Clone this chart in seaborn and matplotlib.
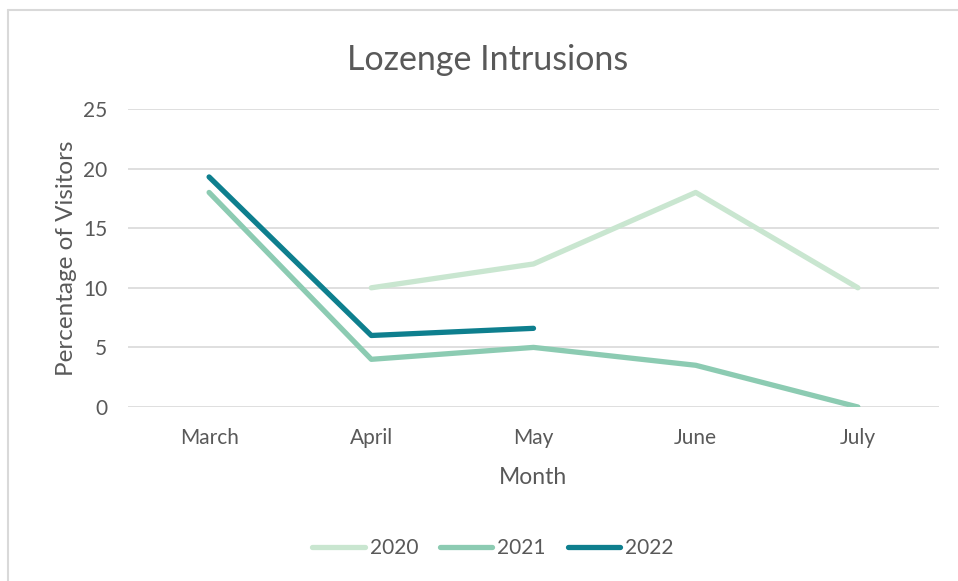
import matplotlib
matplotlib.use("Agg")
import matplotlib.pyplot as plt
import seaborn as sns
import numpy as np
import pandas as pd
from matplotlib.lines import Line2D

months = ["March", "April", "May", "June", "July"]
v2020 = [np.nan, 10, 12, 18, 10]
v2021 = [18, 4, 5, 3.5, 0]
v2022 = [19.3, 6, 6.6, np.nan, np.nan]
years = ["2020", "2021", "2022"]
colors = ["#c9e6d0", "#8ccbb2", "#0e7f8e"]

rows = []
for y, vals in zip(years, [v2020, v2021, v2022]):
    for i, (m, v) in enumerate(zip(months, vals)):
        rows.append({"Month": m, "pos": i, "Year": y, "Value": v})
df = pd.DataFrame(rows)

sns.set_theme(style="white")
plt.rcParams['font.family'] = ['Lato', 'DejaVu Sans']
txt = "#595959"

fig = plt.figure(figsize=(9.58, 5.81), dpi=100)
ax = fig.add_axes([128/958, 1-407/581, (939-128)/958, (407-109)/581])

for y, c in zip(years, colors):
    d = df[df.Year == y].dropna()
    sns.lineplot(data=d, x="pos", y="Value", ax=ax, color=c, linewidth=3.8,
                 solid_capstyle="round", solid_joinstyle="round", label=y, sort=False)

ax.set_xticks(range(len(months)))
ax.set_xticklabels(months)
ax.set_xlim(-0.5, 4.5)
ax.set_ylim(0, 25)
ax.set_yticks([0, 5, 10, 15, 20, 25])
ax.grid(axis="y", color="#d9d9d9", linewidth=1.2)
ax.grid(axis="x", visible=False)
ax.set_axisbelow(True)
for s in ax.spines.values():
    s.set_visible(False)
ax.tick_params(axis="both", colors=txt, labelsize=15, length=0)
ax.tick_params(axis="x", pad=15)
ax.tick_params(axis="y", pad=15)
ax.set_xlabel("Month", fontsize=16.5, color=txt, labelpad=14)
ax.set_ylabel("Percentage of Visitors", fontsize=17.5, color=txt, labelpad=4)
ax.set_title("Lozenge Intrusions", fontsize=24.5, color=txt, pad=28,
             x=(488-128)/811)

leg = ax.legend(loc="center", bbox_to_anchor=(493/958, (581-548)/581), bbox_transform=fig.transFigure,
                ncol=3, frameon=False, fontsize=15, handlelength=2.5, handletextpad=0.25,
                columnspacing=1.05)
for t in leg.get_texts():
    t.set_color(txt)

fig.add_artist(Line2D([8/958, 8/958], [0, 1-10/581], transform=fig.transFigure,
                      color="#d9d9d9", linewidth=1.5))
fig.add_artist(Line2D([8/958, 1], [1-10/581, 1-10/581], transform=fig.transFigure,
                      color="#d9d9d9", linewidth=1.5))

fig.savefig("out.png", dpi=100, facecolor="white")
